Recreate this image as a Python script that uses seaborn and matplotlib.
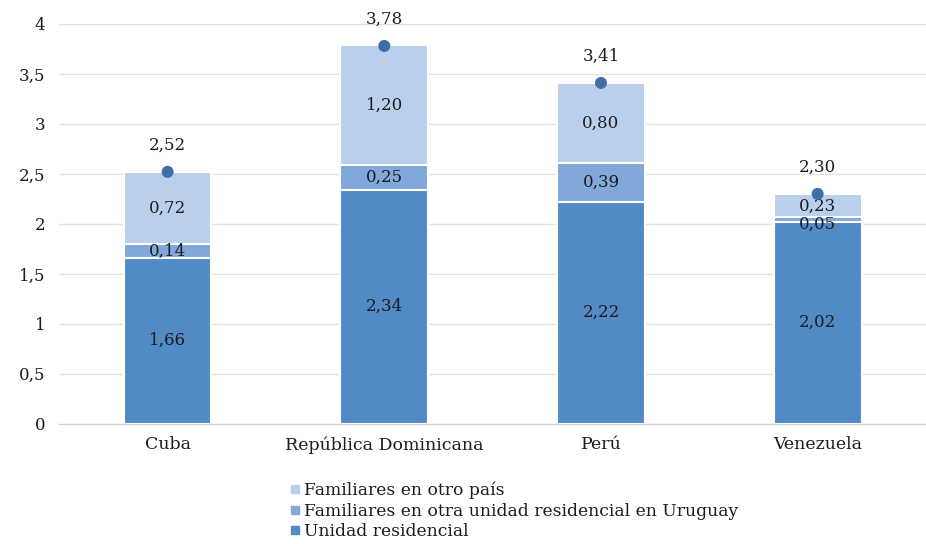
import seaborn as sns
import matplotlib.pyplot as plt
import pandas as pd
import numpy as np
from matplotlib.lines import Line2D
from matplotlib.ticker import FuncFormatter

# Data
paises = ["Cuba", "República Dominicana", "Perú", "Venezuela"]
unidad_residencial = [1.66, 2.34, 2.22, 2.02]
otra_unidad_uruguay = [0.14, 0.25, 0.39, 0.05]
otro_pais = [0.72, 1.20, 0.80, 0.23]
totales = [2.52, 3.78, 3.41, 2.30]

series_names = ["Unidad residencial",
                "Familiares en otra unidad residencial en Uruguay",
                "Familiares en otro país"]
colors = ["#528ac6", "#80a8da", "#b9cfeb"]

def coma(v, dec=2):
    return f"{v:.{dec}f}".replace(".", ",")

sns.set_style("white")
plt.rcParams["font.family"] = ["DejaVu Serif"]

fig = plt.figure(figsize=(9.26, 5.44), dpi=100)
ax = fig.add_axes([0.064, 0.221, 0.936, 0.735])

df = pd.DataFrame({
    "pais": paises,
    "u": unidad_residencial,
    "o": otra_unidad_uruguay,
    "p": otro_pais,
})
df["c1"] = df["u"]
df["c2"] = df["u"] + df["o"]
df["c3"] = df["c2"] + df["p"]

# stacked bars by overlaying cumulative heights
for col, color in zip(["c3", "c2", "c1"], colors[::-1]):
    sns.barplot(data=df, x="pais", y=col, color=color, width=0.405,
                edgecolor="white", linewidth=1.5, saturation=1, ax=ax)

# total points
sns.scatterplot(x=paises, y=totales, color="#3e6fa9", s=75, zorder=5,
                edgecolor="none", ax=ax)

txt = "#1c1c1c"
for i in range(len(paises)):
    u, o, p = unidad_residencial[i], otra_unidad_uruguay[i], otro_pais[i]
    kw = dict(ha="center", va="center", fontsize=12, color=txt)
    ax.text(i, u / 2, coma(u), **kw)
    # very thin segment: nudge its label down so it doesn't collide
    y_o = u + o / 2 if o >= 0.1 else u + o / 2 - 0.045
    y_p = u + o + p / 2 if o >= 0.1 else u + o + p / 2 - 0.005
    ax.text(i, y_o, coma(o), **kw)
    ax.text(i, y_p, coma(p), **kw)
    ax.text(i, totales[i] + 0.27, coma(totales[i]), **kw)

ax.set_ylim(0, 4)
ax.set_xlim(-0.5, 3.5)
ax.set_yticks(np.arange(0, 4.01, 0.5))
ax.yaxis.set_major_formatter(FuncFormatter(lambda v, _: coma(v, 1).replace(",0", "")))
ax.set_xticks([-0.5, 0.5, 1.5, 2.5, 3.5], minor=True)
ax.grid(axis="y", color="#e3e3e3", linewidth=1)
ax.set_axisbelow(True)
ax.set_xlabel("")
ax.set_ylabel("")
for s in ["top", "right", "left"]:
    ax.spines[s].set_visible(False)
ax.spines["bottom"].set_color("#d0d0d0")
ax.tick_params(axis="y", labelsize=12, colors=txt, length=0, pad=10)
ax.tick_params(axis="x", labelsize=12.5, colors=txt, length=0, pad=9)
ax.tick_params(axis="x", which="minor", length=4, color="#d0d0d0", width=1)

handles = [Line2D([], [], marker="s", linestyle="none", markersize=5.5,
                  color=colors[k]) for k in [2, 1, 0]]
labels = [series_names[k] for k in [2, 1, 0]]
fig.legend(handles, labels, loc="upper left", bbox_to_anchor=(0.302, 0.13),
           frameon=False, fontsize=12.3, handletextpad=0.15,
           labelspacing=0.2, borderpad=0, handlelength=0.8,
           labelcolor=txt)

fig.savefig("out.png", dpi=100)
